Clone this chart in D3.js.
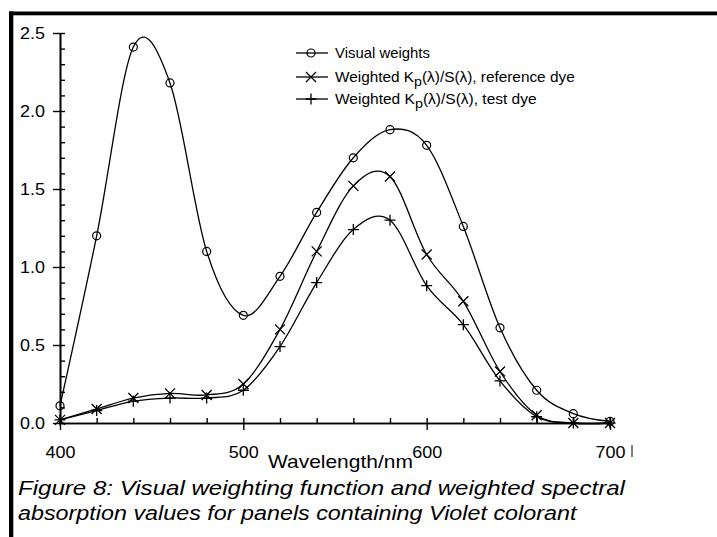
<!DOCTYPE html>
<html><head><meta charset="utf-8">
<script src="https://cdn.jsdelivr.net/npm/d3@7"></script>
<style>
html,body{margin:0;padding:0;background:#fff;}
svg{display:block;font-family:"Liberation Sans",Arial,sans-serif;}
</style></head>
<body><svg id="c" width="717" height="537"></svg>
<script>
const wavelengths = [400,420,440,460,480,500,520,540,560,580,600,620,640,660,680,700];
const visualWeights = [0.11,1.20,2.41,2.18,1.10,0.69,0.94,1.35,1.70,1.88,1.78,1.26,0.61,0.21,0.06,0.01];
const referenceDye = [0.02,0.09,0.16,0.19,0.18,0.25,0.60,1.10,1.52,1.58,1.08,0.78,0.33,0.05,0.00,0.00];
const testDye = [0.02,0.08,0.14,0.16,0.16,0.21,0.49,0.90,1.24,1.30,0.88,0.63,0.27,0.04,0.00,0.00];
const xTicks = [400,500,600,700];
const yTicks = [0.0,0.5,1.0,1.5,2.0,2.5];
const legendLabels = ["Visual weights","reference dye","test dye"];
const xLabel = "Wavelength/nm";
const caption = ["Figure 8: Visual weighting function and weighted spectral",
                 "absorption values for panels containing Violet colorant"];

const svg = d3.select("#c");
function fitWidth(t, w){
  const bw = t.node().getBBox().width;
  const ax = +t.attr("x") || 0;
  const s = w / bw;
  t.attr("transform", `translate(${ax},0) scale(${s},1) translate(${-ax},0)`);
}

// frame bars
svg.append("rect").attr("x",9).attr("y",11.5).attr("width",708).attr("height",3.8).attr("fill","#000");
svg.append("rect").attr("x",9).attr("y",11.5).attr("width",4.3).attr("height",526).attr("fill","#000");

const x = d3.scaleLinear().domain([400,700]).range([60,610]);
const y = d3.scaleLinear().domain([0,2.5]).range([423,33]);

const yMajor = svg.append("g").attr("transform","translate(60,0)")
  .call(d3.axisLeft(y).tickValues(yTicks).tickFormat(d3.format(".1f")).tickSizeInner(7).tickSizeOuter(0).tickPadding(8));
const yMinor = svg.append("g").attr("transform","translate(60,0)")
  .call(d3.axisRight(y).tickValues(d3.range(0,26).map(i=>i/10)).tickSizeInner(5).tickSizeOuter(0).tickFormat(""));
const xMajor = svg.append("g").attr("transform","translate(0,423)")
  .call(d3.axisBottom(x).tickValues(xTicks).tickFormat(d3.format("d")).tickSizeInner(7).tickSizeOuter(0).tickPadding(16));
const xMinor = svg.append("g").attr("transform","translate(0,423)")
  .call(d3.axisTop(x).tickValues(d3.range(400,701,20)).tickSizeInner(5).tickSizeOuter(0).tickFormat(""));
[yMajor,yMinor,xMajor,xMinor].forEach(g=>{
  g.selectAll("path").attr("stroke","#000").attr("stroke-width",1.6);
  g.selectAll("line").attr("stroke","#000").attr("stroke-width",1.4);
  g.selectAll("text").attr("fill","#000").attr("font-size",17).attr("font-family","Liberation Sans, Arial, sans-serif");
});
xMajor.selectAll("text").each(function(){
  const bw = this.getBBox().width;
  d3.select(this).attr("transform", `scale(${30/bw},1)`);
});
yMajor.selectAll("text").each(function(){
  const bw = this.getBBox().width;
  d3.select(this).attr("transform", `translate(-15,0) scale(${25/bw},1) translate(15,0)`);
});
svg.append("line").attr("x1",x(700)+22).attr("x2",x(700)+22).attr("y1",445).attr("y2",457).attr("stroke","#000").attr("stroke-width",1);

const xl = svg.append("text").attr("x",268).attr("y",468).attr("font-size",18).text(xLabel);
fitWidth(xl,145);

caption.forEach((t,i)=>{
  const ct = svg.append("text").attr("x",18).attr("y",495+i*25).attr("font-size",21).attr("font-style","italic").text(t);
  fitWidth(ct, i===0 ? 609 : 560);
});

const line = d3.line().x(d=>x(d[0])).y(d=>y(d[1])).curve(d3.curveCatmullRom.alpha(0));
const series = [
  {vals:visualWeights, m:"circle"},
  {vals:referenceDye, m:"x"},
  {vals:testDye, m:"plus"}
];
function marker(g, type, cx, cy){
  if(type==="circle"){
    g.append("circle").attr("cx",cx).attr("cy",cy).attr("r",4).attr("fill","none").attr("stroke","#000").attr("stroke-width",1.2);
  } else if(type==="x"){
    const s=5;
    g.append("path").attr("d",`M${cx-s},${cy-s}L${cx+s},${cy+s}M${cx-s},${cy+s}L${cx+s},${cy-s}`).attr("stroke","#000").attr("stroke-width",1.3);
  } else {
    const s=5.5;
    g.append("path").attr("d",`M${cx-s},${cy}L${cx+s},${cy}M${cx},${cy-s}L${cx},${cy+s}`).attr("stroke","#000").attr("stroke-width",1.3);
  }
}
const plot = svg.append("g");
series.forEach(s=>{
  const pts = wavelengths.map((w,i)=>[w,s.vals[i]]);
  plot.append("path").attr("d",line(pts)).attr("fill","none").attr("stroke","#000").attr("stroke-width",1.3);
  pts.forEach(p=>marker(plot,s.m,x(p[0]),y(p[1])));
});

const lg = svg.append("g").attr("font-size",14);
const rowsY = [53,77,99];
const widths = [95, 240, 202];
series.forEach((s,i)=>{
  const ly = rowsY[i];
  lg.append("line").attr("x1",296).attr("x2",328).attr("y1",ly).attr("y2",ly).attr("stroke","#000").attr("stroke-width",1.3);
  marker(lg,s.m,311,ly);
  const t = lg.append("text").attr("x",335).attr("y",ly+5);
  if(i===0){ t.text(legendLabels[0]); }
  else {
    t.append("tspan").text("Weighted K");
    t.append("tspan").attr("dy",4.5).attr("font-size",13).text("p");
    t.append("tspan").attr("dy",-4.5).text("(λ)/S(λ), " + legendLabels[i]);
  }
  fitWidth(t, widths[i]);
});
</script></body></html>
